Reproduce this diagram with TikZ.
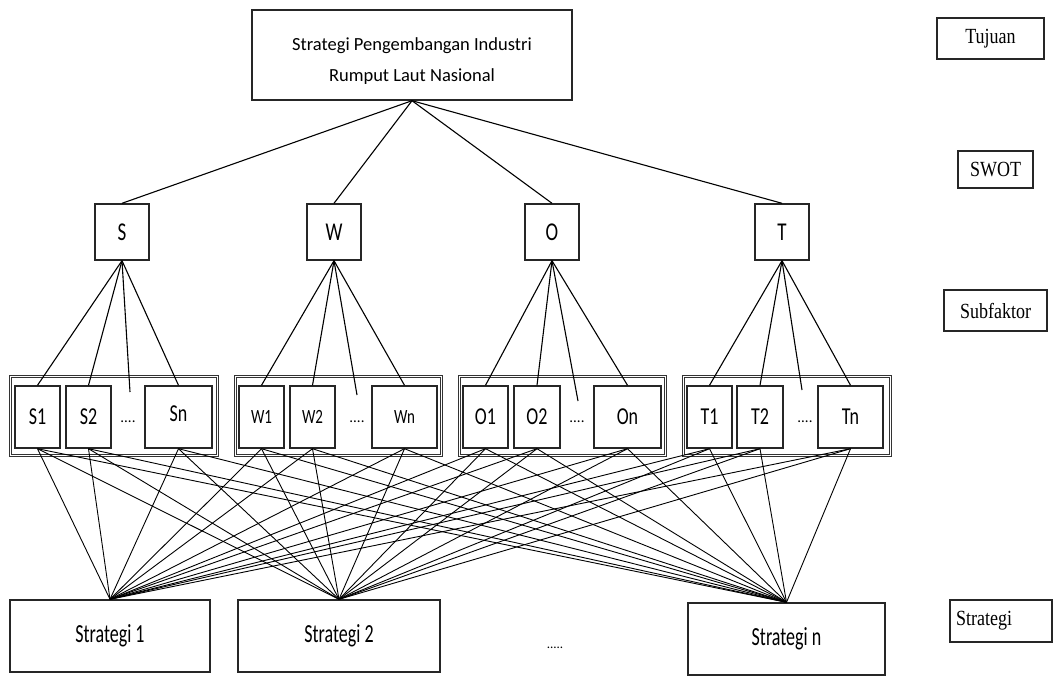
\documentclass[tikz,border=0pt]{standalone}
\usepackage{graphicx}
\usepackage{fontspec}
\setmainfont{Carlito}
\newfontfamily\serifl{Liberation Serif}
\newcommand{\vst}[2]{\scalebox{1}[#1]{#2}}
\begin{document}
\begin{tikzpicture}[x=1pt,y=-1pt,
  box/.style={draw, draw=black!85, line width=1.4pt, inner sep=0pt, align=center},
  sub/.style={box, minimum height=62pt, font=\fontsize{18}{20}\selectfont},
  subw/.style={box, minimum height=62pt, font=\fontsize{15}{17}\selectfont},
  grp/.style={draw=black!80, line width=0.9pt, double, double distance=1.6pt},
  lvl/.style={box, line width=1.3pt, font=\serifl\fontsize{18}{20}\selectfont},
  swot/.style={box, minimum width=54pt, minimum height=56pt, font=\fontsize{19}{22}\selectfont},
  strat/.style={box, minimum width=200pt, minimum height=72pt, font=\fontsize{18}{21}\selectfont},
  link/.style={line width=1.1pt},
  dots/.style={inner sep=0pt, font=\fontsize{15}{16}\selectfont}]
\useasboundingbox (0,0) rectangle (1054,682);

% goal
\node[box, minimum width=320pt, minimum height=90pt] (goal) at (412,55) {};
\node[inner sep=0pt, align=center, font=\fontsize{18.5}{31}\selectfont] (goaltext) at (412,61)
  {Strategi Pengembangan Industri\\Rumput Laut Nasional};

% level labels
\node[lvl, minimum width=107pt, minimum height=41pt] (tuj) at (990.5,38.5) {\vst{1.2}{Tujuan}};
\node[lvl, minimum width=75pt, minimum height=37pt] (swotl) at (995.5,169.5) {\vst{1.2}{SWOT}};
\node[lvl, minimum width=103pt, minimum height=41pt] (subl) at (995.5,310.5) {\vst{1.2}{Subfaktor}};
\node[lvl, minimum width=102pt, minimum height=42pt, text width=90pt, align=left] (strl) at (1001,621) {\vst{1.2}{Strategi}};

% SWOT
\node[swot] (S) at (122,232) {\vst{1.35}{S}};
\node[swot] (W) at (334,232) {\vst{1.35}{W}};
\node[swot] (O) at (552,232) {\vst{1.35}{O}};
\node[swot] (T) at (782,232) {\vst{1.35}{T}};
\foreach \n in {S,W,O,T} \draw[link] (goal.south) -- (\n.north);

% group frames
\draw[grp] (10.5,376.5) rectangle (217.5,455.5);
\draw[grp] (235.5,376.5) rectangle (441.5,455.5);
\draw[grp] (459.5,376.5) rectangle (665.5,455.5);
\draw[grp] (683.5,376.5) rectangle (890.5,455.5);

% subfactors
\node[sub, minimum width=45pt] (S1) at (37.5,417) {\vst{1.35}{S1}};
\node[sub, minimum width=45pt] (S2) at (88.5,417) {\vst{1.35}{S2}};
\node[dots] (Sd) at (128,422) {....};
\node[sub, minimum width=67pt] (Sn) at (178.5,417) {\raisebox{6pt}{\vst{1.35}{Sn}}};
\coordinate (Sdt) at (130,392);

\node[subw, minimum width=45pt] (W1) at (261.5,417) {\vst{1.35}{W1}};
\node[subw, minimum width=45pt] (W2) at (312.5,417) {\vst{1.35}{W2}};
\node[dots] (Wd) at (357,422) {....};
\node[subw, minimum width=65pt] (Wn) at (404.5,417) {\vst{1.35}{Wn}};
\coordinate (Wdt) at (357,395);

\node[sub, minimum width=45pt] (O1) at (485.5,417) {\vst{1.35}{O1}};
\node[sub, minimum width=46pt] (O2) at (537,417) {\vst{1.35}{O2}};
\node[dots] (Od) at (577,422) {....};
\node[sub, minimum width=67pt] (On) at (627.5,417) {\vst{1.35}{On}};
\coordinate (Odt) at (578,401);

\node[sub, minimum width=45pt] (T1) at (709.5,417) {\vst{1.35}{T1}};
\node[sub, minimum width=46pt] (T2) at (760,417) {\vst{1.35}{T2}};
\node[dots] (Td) at (805,422) {....};
\node[sub, minimum width=65pt] (Tn) at (850.5,417) {\vst{1.35}{Tn}};
\coordinate (Tdt) at (802,390);

\foreach \g in {S,W,O,T} {
  \draw[link] (\g.south) -- (\g1.north);
  \draw[link] (\g.south) -- (\g2.north);
  \draw[link] (\g.south) -- (\g dt);
  \draw[link] (\g.south) -- (\g n.north);
}

% strategies
\node[strat] (st1) at (110,636) {\vst{1.45}{Strategi 1}};
\node[strat, minimum width=202pt] (st2) at (339,636) {\vst{1.45}{Strategi 2}};
\node[dots, font=\fontsize{13}{14}\selectfont] (std) at (555,648) {.....};
\node[strat, minimum width=197pt] (stn) at (786.5,639) {\vst{1.45}{Strategi n}};

\foreach \g in {S,W,O,T} {
  \foreach \k in {1,2,n} {
    \foreach \s in {st1,st2,stn} {
      \draw[link, line width=0.9pt] (\g\k.south) -- (\s.north);
    }
  }
}
\end{tikzpicture}
\end{document}
